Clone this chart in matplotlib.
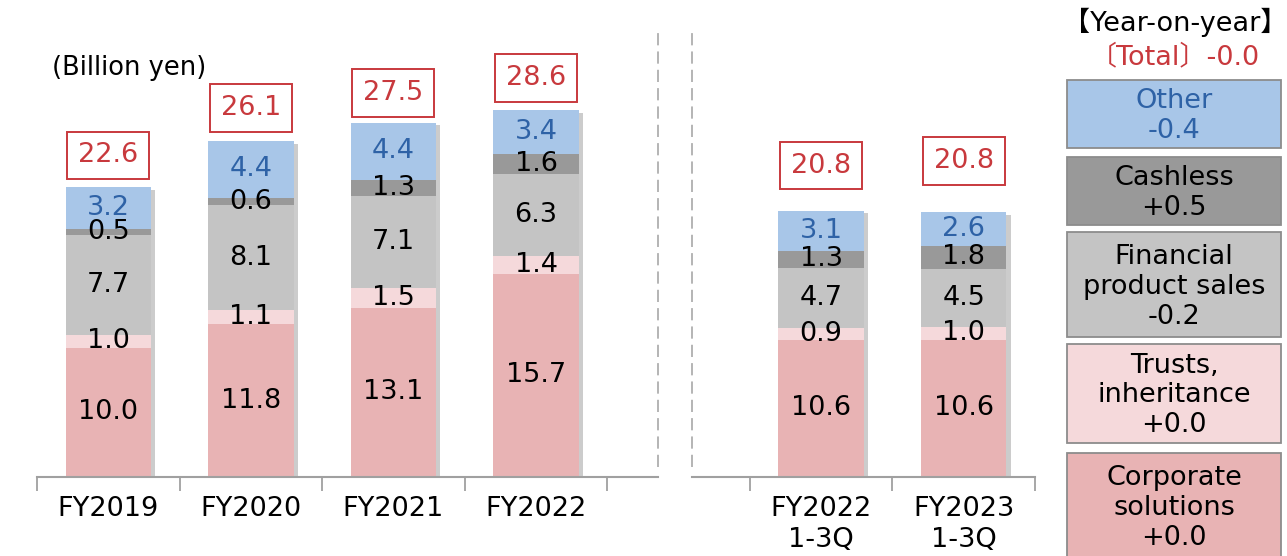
import numpy as np
import matplotlib
matplotlib.use("Agg")
import matplotlib.pyplot as plt
from matplotlib.patches import Rectangle
from matplotlib import patheffects as pe

# ---------------- data ----------------
categories = ["FY2019", "FY2020", "FY2021", "FY2022", "", "FY2022\n1-3Q", "FY2023\n1-3Q"]
corporate = [10.0, 11.8, 13.1, 15.7, np.nan, 10.6, 10.6]
trusts = [1.0, 1.1, 1.5, 1.4, np.nan, 0.9, 1.0]
financial = [7.7, 8.1, 7.1, 6.3, np.nan, 4.7, 4.5]
cashless = [0.5, 0.6, 1.3, 1.6, np.nan, 1.3, 1.8]
other = [3.2, 4.4, 4.4, 3.4, np.nan, 3.1, 2.6]
totals = [22.6, 26.1, 27.5, 28.6, np.nan, 20.8, 20.8]

yoy_title = "【Year-on-year】"
yoy_total = "〔Total〕-0.0"
yoy_labels = ["Corporate\nsolutions\n+0.0", "Trusts,\ninheritance\n+0.0",
              "Financial\nproduct sales\n-0.2", "Cashless\n+0.5", "Other\n-0.4"]
unit_label = "(Billion yen)"

# ---------------- style ----------------
FONT = ["DejaVu Sans", "Noto Sans CJK JP"]
plt.rcParams["font.family"] = FONT
colors = ["#E8B3B4", "#F5D9DB", "#C4C4C4", "#999999", "#A8C6E8"]
text_colors = ["black", "black", "black", "black", "#2E62A6"]
RED = "#C8393D"
GRAY = "#A0A0A0"
FS = 19.5

W, H = 1287, 556
fig = plt.figure(figsize=(W / 100, H / 100), dpi=100)
ax_left_px, ax_right_px, base_px = 37, 1035, 477
ax = fig.add_axes([ax_left_px / W, (H - base_px) / H, (ax_right_px - ax_left_px) / W, base_px / H])
px_per_unit = 12.93
ax.set_xlim(-0.5, len(categories) - 0.5)
ax.set_ylim(0, base_px / px_per_unit)
cat_px = (ax_right_px - ax_left_px) / len(categories)

def px2x(px):
    return (px - ax_left_px) / cat_px - 0.5

x = np.arange(len(categories))
series = [corporate, trusts, financial, cashless, other]
bw = 0.6

# shadows
stack_tops = np.nansum(np.array(series, dtype=float), axis=0)
valid = ~np.isnan(np.array(totals, dtype=float))
sh = ax.bar(x[valid], stack_tops[valid], width=bw, color="none", zorder=1)
for p in sh:
    p.set_path_effects([pe.SimplePatchShadow(offset=(3, -2), shadow_rgbFace="black", alpha=0.2)])

bottom = np.zeros(len(categories))
for vals, c, tc in zip(series, colors, text_colors):
    v = np.array(vals, dtype=float)
    ax.bar(x[valid], v[valid], width=bw, bottom=bottom[valid], color=c, zorder=2, linewidth=0)
    for xi, vi, bi in zip(x[valid], v[valid], bottom[valid]):
        ax.text(xi, bi + vi / 2, f"{vi:.1f}", ha="center", va="center", fontsize=FS,
                color=tc, zorder=5)
    bottom = bottom + np.nan_to_num(v)

# total boxes (offset in pixels above stack top)
total_offsets_px = [32, 33, 30, 32, 0, 45, 51]
for xi, t, top, off in zip(x, totals, stack_tops, total_offsets_px):
    if np.isnan(t):
        continue
    ax.annotate(f"{t:.1f}", xy=(xi, top), xytext=(0, off * 0.72), textcoords="offset points",
                ha="center", va="center", fontsize=FS, color=RED, zorder=6,
                bbox=dict(boxstyle="square,pad=0.4", fc="white", ec=RED, lw=1.4))

# axes styling
for s in ax.spines.values():
    s.set_visible(False)
ax.set_yticks([])
ax.set_xticks(x)
ax.set_xticklabels(categories, fontsize=FS, linespacing=1.25)
ax.tick_params(axis="x", which="major", length=0, pad=14)
ax.set_xticks(np.arange(-0.5, len(categories)), minor=True)
ax.tick_params(axis="x", which="minor", length=10, width=1.3, color=GRAY, direction="out")

# baseline with a gap between panels
gap_l, gap_r = px2x(658), px2x(692)
ax.plot([-0.5, gap_l], [0, 0], color=GRAY, lw=1.5, clip_on=False, zorder=3)
ax.plot([gap_r, len(categories) - 0.5], [0, 0], color=GRAY, lw=1.5, clip_on=False, zorder=3)
for gx in (gap_l, gap_r):
    ax.plot([gx, gx], [10 / px_per_unit, (base_px - 27) / px_per_unit], color=GRAY, lw=1.1,
            linestyle=(0, (8, 4)), zorder=3)

# unit label
fig.text(52 / W, 1 - 68 / H, unit_label, fontsize=18.5, ha="left", va="center")

# year-on-year legend
fig.text(1175 / W, 1 - 22 / H, yoy_title, fontsize=FS, ha="center", va="center", family=FONT)
fig.text(1175 / W, 1 - 57 / H, yoy_total, fontsize=FS, ha="center", va="center", color=RED, family=FONT)
boxes_px = [(453, 562), (344, 443), (232, 337), (157, 225), (80, 148)]
for (top, bot), c, tc, lab in zip(boxes_px, colors, text_colors, yoy_labels):
    r = Rectangle((1067 / W, 1 - bot / H), 214 / W, (bot - top) / H, transform=fig.transFigure,
                  facecolor=c, edgecolor="#8C8C8C", lw=1.3)
    fig.add_artist(r)
    cy = (top + bot) / 2 + 2 if bot < 556 else 508
    fig.text(1174 / W, 1 - cy / H, lab, fontsize=FS, ha="center", va="center", color=tc,
             linespacing=1.2)

fig.savefig("out.png", dpi=100)
